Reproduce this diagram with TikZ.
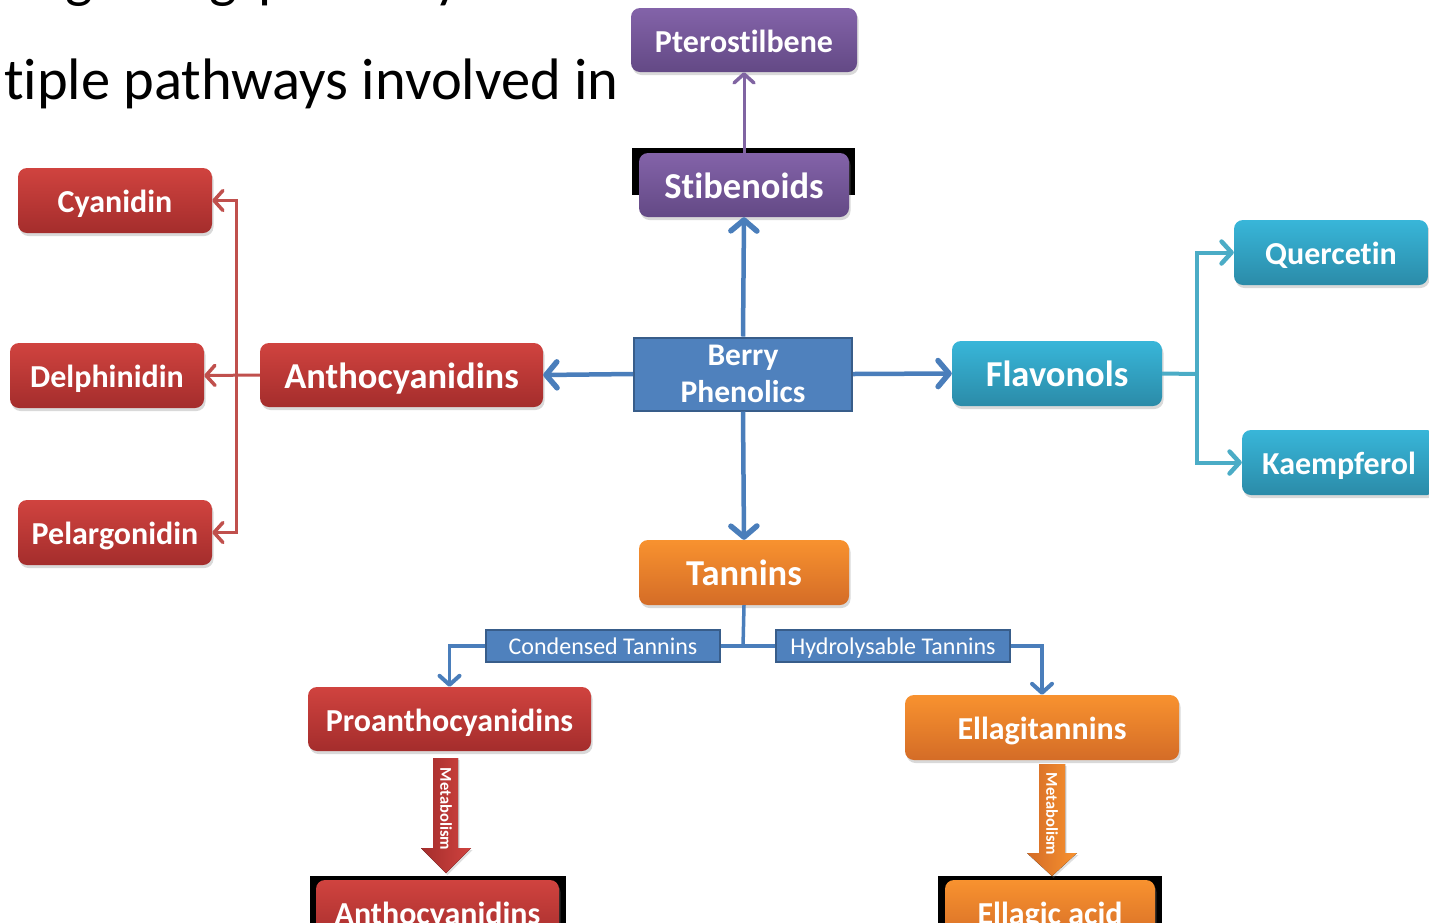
\documentclass[tikz,border=0pt]{standalone}
\usepackage{fontspec}
\setmainfont{Carlito}[Ligatures=CommonOff]
\usetikzlibrary{arrows.meta,shadows,calc}
\definecolor{rtop}{HTML}{D0433F}
\definecolor{rbot}{HTML}{A42D2C}
\definecolor{ptop}{HTML}{8363A9}
\definecolor{pbot}{HTML}{634985}
\definecolor{ttop}{HTML}{38B6D9}
\definecolor{tbot}{HTML}{2B8BA8}
\definecolor{otop}{HTML}{F8922F}
\definecolor{obot}{HTML}{D46C27}
\definecolor{bfill}{HTML}{4F81BD}
\definecolor{bdraw}{HTML}{385D8A}
\definecolor{lblue}{HTML}{4A7EBB}
\definecolor{lred}{HTML}{C0504D}
\definecolor{lteal}{HTML}{4BACC6}
\definecolor{lpurp}{HTML}{8064A2}
\begin{document}
\begin{tikzpicture}[x=1pt,y=-1pt,
  box/.style={rounded corners=9pt, text=white, inner sep=0pt,
    font=\bfseries\fontsize{32}{36}\selectfont, text height=24pt, text depth=0pt,
    drop shadow={shadow xshift=1.5pt,shadow yshift=-3pt,opacity=0.3}},
  bigtxt/.style={font=\bfseries\fontsize{36.5}{40}\selectfont, text height=26pt, text depth=0pt},
  redbox/.style={box, top color=rtop, bottom color=rbot},
  purpbox/.style={box, top color=ptop, bottom color=pbot},
  tealbox/.style={box, top color=ttop, bottom color=tbot},
  orbox/.style={box, top color=otop, bottom color=obot},
  flatbox/.style={fill=bfill, draw=bdraw, line width=2pt, text=white, inner sep=0pt},
  labbox/.style={flatbox, minimum width=234pt, minimum height=32pt,
    font=\fontsize{24}{26}\selectfont, text height=17pt, text depth=0pt},
  blueline/.style={draw=lblue, line width=4.5pt, line join=round,
    -{Straight Barb[round,length=11pt,width=26pt,line width=5.5pt]}},
  bluethin/.style={draw=lblue, line width=3.5pt},
  bluethinarr/.style={bluethin, -{Straight Barb[round,length=9pt,width=20pt,line width=4pt]}},
  redline/.style={draw=lred, line width=3pt},
  redarr/.style={redline, -{Straight Barb[round,length=9pt,width=20pt,line width=3.5pt]}},
  tealline/.style={draw=lteal, line width=4pt},
  tealarr/.style={tealline, -{Straight Barb[round,length=10pt,width=22pt,line width=4.5pt]}},
  purparr/.style={draw=lpurp, line width=3pt, -{Straight Barb[round,length=9pt,width=20pt,line width=3.5pt]}},
  mettxt/.style={rotate=-90, text=white, inner sep=0pt, font=\bfseries\fontsize{16.5}{16.5}\selectfont},
  headtxt/.style={inner sep=0pt, font=\fontsize{58.5}{64}\selectfont}
]
\useasboundingbox (0,0) rectangle (1429,922);
\clip (0,0) rectangle (1429,922);

% heading text
\node[headtxt, anchor=base east] (h1a) at (237,-4) {signaling};
\node[headtxt, anchor=base west] (h1b) at (258,-4) {pathways};
\node[headtxt, anchor=base west] (h2) at (4,99) {tiple pathways involved in};

% black backgrounds
\fill[black] (632,148) rectangle (855,195);
\fill[black] (310,876) rectangle (566,930);
\fill[black] (938,876) rectangle (1162,930);

% boxes
\node[purpbox, minimum width=226pt, minimum height=64pt] (ptero) at (744,40) {Pterostilbene};
\node[purpbox, bigtxt, minimum width=210pt, minimum height=64pt] (stib) at (744,185) {Stibenoids};
\node[flatbox, minimum width=218pt, minimum height=73pt, align=center,
      font=\bfseries\fontsize{31.5}{37}\selectfont] (berry) at (743,374) {Berry\\Phenolics};
\node[redbox, bigtxt, minimum width=283pt, minimum height=64pt] (antho) at (401.5,375) {Anthocyanidins};
\node[redbox, minimum width=194pt, minimum height=65pt] (delph) at (107,375.5) {Delphinidin};
\node[redbox, minimum width=194pt, minimum height=65pt] (cyan) at (115,200.5) {Cyanidin};
\node[redbox, minimum width=194pt, minimum height=65pt] (pelar) at (115,532.5) {Pelargonidin};
\node[tealbox, bigtxt, minimum width=210pt, minimum height=65pt] (flav) at (1057,373.5) {Flavonols};
\node[tealbox, minimum width=194pt, minimum height=65pt] (quer) at (1331,252.5) {Quercetin};
\node[tealbox, minimum width=194pt, minimum height=65pt] (kaem) at (1339,462.5) {Kaempferol};
\node[orbox, bigtxt, minimum width=210pt, minimum height=65pt] (tann) at (744,572.5) {Tannins};
\node[labbox] (cond) at (603,646) {Condensed Tannins};
\node[labbox] (hydr) at (893,646) {Hydrolysable Tannins};
\node[redbox, minimum width=283pt, minimum height=64pt] (proa) at (449.5,719) {Proanthocyanidins};
\node[orbox, minimum width=274pt, minimum height=65pt] (ellag) at (1042,727.5) {Ellagitannins};
\node[redbox, minimum width=243pt, minimum height=65pt] (antho2) at (437.5,912.5) {Anthocyanidins};
\node[orbox, minimum width=210pt, minimum height=65pt] (ellac) at (1050,912.5) {Ellagic acid};

% connectors
\draw[purparr] (stib.north) -- (ptero.south);
\draw[blueline] (berry.north) -- (stib.south);
\draw[blueline] (berry.west) -- (antho.east);
\draw[blueline] (berry.east) -- (flav.west);
\draw[blueline] (berry.south) -- (tann.north);

\coordinate (rj) at (236,375);
\draw[redarr] (antho.west) -- (delph.east);
\draw[redarr] (rj) |- (cyan.east);
\draw[redarr] (rj) |- (pelar.east);

\coordinate (fj) at (1197,374);
\draw[tealline] (flav.east) -- (fj);
\draw[tealarr] (fj) |- (quer.west);
\draw[tealarr] (fj) |- (kaem.west);

\coordinate (tj) at (743,647);
\draw[bluethin] (tann.south) -- (tj);
\draw[bluethin] (cond.east) -- (hydr.west);
\draw[bluethinarr] (cond.west) -| (proa.north);
\draw[bluethinarr] (hydr.east) -| (ellag.north);

% metabolism block arrows
\fill[left color=rbot, right color=rtop, drop shadow={shadow xshift=1.5pt,shadow yshift=-2pt,opacity=0.25}]
  (433,758) -- (458,758) -- (458,848) -- (471,848) -- (446,873) -- (421,848) -- (433,848) -- cycle;
\node[mettxt] (met1) at (446,809) {Metabolism};
\fill[left color=obot, right color=otop, drop shadow={shadow xshift=1.5pt,shadow yshift=-2pt,opacity=0.25}]
  (1039,764) -- (1065,764) -- (1065,853) -- (1077,853) -- (1052,876) -- (1027,853) -- (1039,853) -- cycle;
\node[mettxt] (met2) at (1052,814) {Metabolism};
\end{tikzpicture}
\end{document}
